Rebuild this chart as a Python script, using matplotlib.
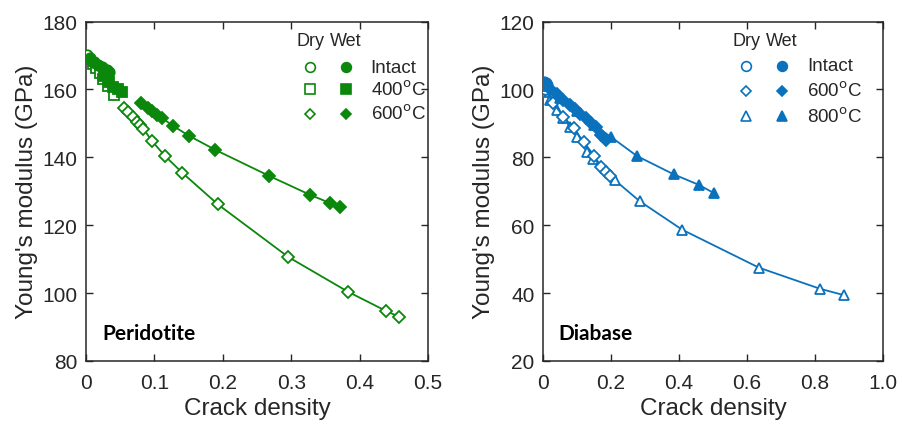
import matplotlib
matplotlib.use("Agg")
import matplotlib.pyplot as plt

# ---------------- Data: Peridotite ----------------
per_intact_dry_x = [0.002, 0.006, 0.010]
per_intact_dry_y = [170.0, 169.0, 168.2]
per_intact_wet_x = [0.006, 0.012, 0.018, 0.024, 0.030, 0.034]
per_intact_wet_y = [169.2, 168.2, 167.3, 166.5, 165.8, 165.2]
per_400_dry_x = [0.010, 0.015, 0.020, 0.025, 0.032, 0.041]
per_400_dry_y = [167.5, 166.2, 164.8, 163.1, 161.0, 158.4]
per_400_wet_x = [0.026, 0.033, 0.040, 0.047, 0.052]
per_400_wet_y = [164.0, 162.2, 160.6, 160.0, 159.2]
per_600_dry_x = [0.055, 0.062, 0.068, 0.074, 0.079, 0.084, 0.096, 0.115, 0.141, 0.193, 0.296, 0.383, 0.438, 0.458]
per_600_dry_y = [154.5, 153.3, 151.8, 150.5, 149.4, 148.4, 144.9, 140.5, 135.4, 126.1, 110.6, 100.4, 94.8, 93.0]
per_600_wet_x = [0.080, 0.090, 0.097, 0.104, 0.111, 0.127, 0.150, 0.189, 0.268, 0.327, 0.357, 0.371]
per_600_wet_y = [156.1, 154.6, 153.7, 152.6, 151.6, 149.3, 146.4, 142.2, 134.5, 129.0, 126.5, 125.4]

# ---------------- Data: Diabase ----------------
dia_intact_dry_x = [0.002, 0.005]
dia_intact_dry_y = [100.6, 100.0]
dia_intact_wet_x = [0.003, 0.008, 0.013]
dia_intact_wet_y = [102.3, 101.8, 101.2]
dia_600_dry_x = [0.006, 0.030, 0.060, 0.090, 0.120, 0.150, 0.172, 0.185, 0.197]
dia_600_dry_y = [99.8, 96.0, 92.0, 88.5, 84.5, 80.5, 77.1, 75.8, 74.6]
dia_600_wet_x = [0.020, 0.040, 0.060, 0.080, 0.095, 0.110, 0.125, 0.140, 0.155, 0.170, 0.185]
dia_600_wet_y = [100.0, 98.5, 97.0, 95.5, 94.3, 92.8, 91.5, 90.0, 88.8, 86.5, 85.0]
dia_800_dry_x = [0.008, 0.020, 0.040, 0.060, 0.080, 0.100, 0.129, 0.148, 0.212, 0.284, 0.409, 0.635, 0.814, 0.885]
dia_800_dry_y = [99.3, 97.0, 94.0, 91.5, 89.0, 86.0, 81.7, 79.6, 73.2, 67.1, 58.7, 47.5, 41.3, 39.4]
dia_800_wet_x = [0.010, 0.050, 0.100, 0.150, 0.200, 0.276, 0.384, 0.458, 0.502]
dia_800_wet_y = [101.0, 97.5, 93.5, 89.5, 86.0, 80.4, 75.0, 71.9, 69.5]

per_xticks = [0, 0.1, 0.2, 0.3, 0.4, 0.5]
per_xticklabels = ["0", "0.1", "0.2", "0.3", "0.4", "0.5"]
per_yticks = [80, 100, 120, 140, 160, 180]
dia_xticks = [0, 0.2, 0.4, 0.6, 0.8, 1.0]
dia_xticklabels = ["0", "0.2", "0.4", "0.6", "0.8", "1.0"]
dia_yticks = [20, 40, 60, 80, 100, 120]

GREEN = "#0b870b"
BLUE = "#0a72bd"
AX_COLOR = "#262626"

plt.rcParams["font.family"] = ["Liberation Sans", "DejaVu Sans"]

fig = plt.figure(figsize=(9.02, 4.27), dpi=100)
ax1 = fig.add_axes([86/902, 65/427, 342/902, 339.5/427])
ax2 = fig.add_axes([543/902, 65/427, 340/902, 339.5/427])

MS = 7.5
LW = 1.3


def series(ax, x, y, marker, filled, color, ms=MS):
    ax.plot(x, y, "-", marker=marker, color=color, lw=LW, ms=ms,
            mfc=color if filled else "white", mec=color, mew=1.3, zorder=3)


# Peridotite
series(ax1, per_600_dry_x, per_600_dry_y, "D", False, GREEN, 6)
series(ax1, per_400_dry_x, per_400_dry_y, "s", False, GREEN)
series(ax1, per_intact_dry_x, per_intact_dry_y, "o", False, GREEN)
series(ax1, per_600_wet_x, per_600_wet_y, "D", True, GREEN, 6)
series(ax1, per_400_wet_x, per_400_wet_y, "s", True, GREEN)
series(ax1, per_intact_wet_x, per_intact_wet_y, "o", True, GREEN)

# Diabase
series(ax2, dia_800_dry_x, dia_800_dry_y, "^", False, BLUE)
series(ax2, dia_600_dry_x, dia_600_dry_y, "D", False, BLUE, 6)
series(ax2, dia_intact_dry_x, dia_intact_dry_y, "o", False, BLUE)
series(ax2, dia_800_wet_x, dia_800_wet_y, "^", True, BLUE)
series(ax2, dia_600_wet_x, dia_600_wet_y, "D", True, BLUE, 6)
series(ax2, dia_intact_wet_x, dia_intact_wet_y, "o", True, BLUE)


def style(ax, xlim, ylim, xt, xtl, yt):
    ax.set_xlim(*xlim)
    ax.set_ylim(*ylim)
    ax.set_xticks(xt)
    ax.set_xticklabels(xtl)
    ax.set_yticks(yt)
    ax.tick_params(direction="in", top=True, right=True, length=5, width=1,
                   colors=AX_COLOR, labelsize=15)
    ax.tick_params(axis="x", pad=9)
    ax.tick_params(axis="y", pad=6)
    for s in ax.spines.values():
        s.set_color(AX_COLOR)
        s.set_linewidth(1.1)
    ax.set_xlabel("Crack density", fontsize=17.5, color=AX_COLOR, labelpad=3)
    ax.set_ylabel("Young's modulus (GPa)", fontsize=17.5, color=AX_COLOR, labelpad=3)


style(ax1, (0, 0.5), (80, 180), per_xticks, per_xticklabels, per_yticks)
style(ax2, (0, 1.0), (20, 120), dia_xticks, dia_xticklabels, dia_yticks)


def legend(ax, color, labels, markers, xd, xw, xt, ys, yh):
    ax.text(xd, yh, "Dry", transform=ax.transAxes, ha="center", va="center",
            fontsize=13, color=AX_COLOR)
    ax.text(xw, yh, "Wet", transform=ax.transAxes, ha="center", va="center",
            fontsize=13, color=AX_COLOR)
    for lab, m, y in zip(labels, markers, ys):
        ms = 5.5 if m == "D" else 7
        ax.plot([xd], [y], marker=m, ms=ms, mfc="white", mec=color, mew=1.2,
                transform=ax.transAxes, ls="none", clip_on=False)
        ax.plot([xw], [y], marker=m, ms=ms, mfc=color, mec=color, mew=1.2,
                transform=ax.transAxes, ls="none", clip_on=False)
        ax.text(xt, y, lab, transform=ax.transAxes, ha="left", va="center",
                fontsize=13.5, color=AX_COLOR)


legend(ax1, GREEN, ["Intact", "400$^{\\mathrm{o}}$C", "600$^{\\mathrm{o}}$C"],
       ["o", "s", "D"], 0.655, 0.760, 0.832, [0.865, 0.800, 0.729], 0.944)
legend(ax2, BLUE, ["Intact", "600$^{\\mathrm{o}}$C", "800$^{\\mathrm{o}}$C"],
       ["o", "D", "^"], 0.598, 0.702, 0.777, [0.870, 0.796, 0.722], 0.944)

ax1.text(0.047, 0.082, "Peridotite", transform=ax1.transAxes, fontsize=15,
         fontweight="bold", family=["Lato", "DejaVu Sans"], va="center", ha="left")
ax2.text(0.045, 0.082, "Diabase", transform=ax2.transAxes, fontsize=15,
         fontweight="bold", family=["Lato", "DejaVu Sans"], va="center", ha="left")

fig.savefig("out.png", dpi=100)
